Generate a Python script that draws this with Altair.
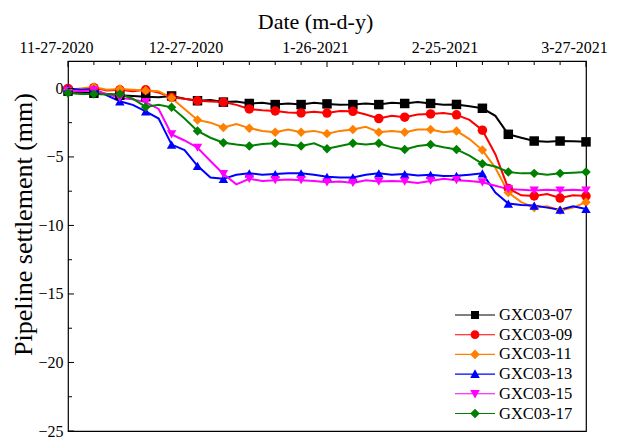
import altair as alt
import pandas as pd

# ---- data -------------------------------------------------------------
series = ["GXC03-07", "GXC03-09", "GXC03-11", "GXC03-13", "GXC03-15", "GXC03-17"]
colors = ["#000000", "#FF0000", "#FF8000", "#0000FF", "#FF00FF", "#008000"]
marker_shapes = ["square", "circle", "diamond", "triangle-up", "triangle-down", "diamond"]

start_date = "2020-11-27"
step_days = 3          # survey interval
marker_every = 6       # days between plotted symbols

gxc03_07 = [-0.2, -0.3, -0.35, -0.4, -0.5, -0.55, -0.6, -0.65, -0.55, -0.75,
            -0.9, -0.85, -1.0, -0.95, -1.1, -1.05, -1.18, -1.1, -1.18, -1.05,
            -1.13, -1.2, -1.18, -1.1, -1.18, -1.05, -1.1, -1.0, -1.1, -1.2,
            -1.17, -1.3, -1.45, -2.0, -3.35, -3.6, -3.84, -3.9, -3.84, -3.85, -3.9]
gxc03_09 = [0.0, -0.1, 0.05, -0.15, -0.1, -0.2, -0.1, -0.3, -0.65, -0.75,
            -0.9, -0.95, -1.0, -1.2, -1.5, -1.6, -1.65, -1.75, -1.79, -1.7,
            -1.8, -1.65, -1.67, -1.9, -2.2, -2.0, -2.1, -1.9, -1.86, -1.8,
            -1.93, -2.3, -3.05, -4.8, -7.3, -7.8, -7.85, -7.7, -8.0, -7.8, -7.85]
gxc03_11 = [-0.1, 0.0, 0.1, -0.1, -0.05, -0.1, -0.15, -0.2, -0.7, -1.5,
            -2.3, -2.5, -2.85, -2.6, -2.9, -3.1, -3.2, -3.0, -3.2, -3.1,
            -3.3, -3.1, -3.0, -2.8, -3.2, -3.1, -3.2, -3.0, -3.0, -3.2,
            -3.1, -3.7, -4.5, -5.8, -7.6, -8.3, -8.7, -8.6, -8.9, -8.7, -8.3]
gxc03_13 = [0.0, -0.1, -0.05, -0.5, -0.94, -1.2, -1.67, -2.2, -4.1, -4.5,
            -5.65, -6.5, -6.6, -6.3, -6.2, -6.3, -6.25, -6.2, -6.2, -6.3,
            -6.45, -6.5, -6.5, -6.3, -6.2, -6.3, -6.25, -6.35, -6.3, -6.4,
            -6.38, -6.3, -6.2, -7.6, -8.4, -8.5, -8.55, -8.7, -8.85, -8.6, -8.8]
gxc03_15 = [-0.2, -0.2, -0.15, -0.4, -0.7, -0.8, -1.0, -1.5, -3.36, -3.8,
            -4.33, -5.3, -6.25, -7.0, -6.6, -6.75, -6.7, -6.65, -6.7, -6.75,
            -6.85, -6.8, -6.9, -6.7, -6.8, -6.75, -6.8, -6.9, -6.75, -6.6,
            -6.7, -6.75, -6.85, -7.1, -7.35, -7.4, -7.45, -7.4, -7.45, -7.4, -7.45]
gxc03_17 = [-0.34, -0.4, -0.41, -0.45, -0.41, -0.75, -1.35, -1.2, -1.38, -2.2,
            -3.1, -3.6, -3.96, -4.1, -4.2, -4.05, -4.0, -4.1, -4.2, -4.0,
            -4.4, -4.2, -4.0, -4.1, -4.0, -4.3, -4.45, -4.2, -4.1, -4.3,
            -4.45, -4.9, -5.5, -5.7, -6.1, -6.2, -6.2, -6.3, -6.2, -6.15, -6.1]

x_tick_labels = ["2020-11-27", "2020-12-27", "2021-01-26", "2021-02-25", "2021-03-27"]
y_tick_labels = [0, -5, -10, -15, -20, -25]

# ---- long table -------------------------------------------------------
t0 = pd.Timestamp(start_date)
rows = []
for name, vals in zip(series, [gxc03_07, gxc03_09, gxc03_11, gxc03_13, gxc03_15, gxc03_17]):
    for i, v in enumerate(vals):
        day = i * step_days
        rows.append({"series": name, "day": day,
                     "date": (t0 + pd.Timedelta(days=day)).strftime("%Y-%m-%d"),
                     "settlement": v})
df = pd.DataFrame(rows)

# positions of the inward-pointing frame ticks
x_ticks = pd.DataFrame({"date": [(t0 + pd.Timedelta(days=d)).strftime("%Y-%m-%d")
                                 for d in range(0, 121, marker_every)]})
x_ticks["major"] = x_ticks["date"].isin(x_tick_labels)
y_ticks = pd.DataFrame({"settlement": [-2.5 * k for k in range(11)]})
y_ticks["major"] = y_ticks["settlement"] % 5 == 0

SERIF = "Liberation Serif"
X_TEXT_SHIFT = -12   # the date labels and title sit a little left of their ticks


def utc_day(s):
    return alt.DateTime(year=int(s[:4]), month=int(s[5:7]), date=int(s[8:]), utc=True)


x_scale = alt.Scale(type="utc", domain=[utc_day(x_tick_labels[0]), utc_day(x_tick_labels[-1])])
y_scale = alt.Scale(domain=[-25, 2], nice=False, zero=False)

# the axis group is translated by X_TEXT_SHIFT in x and y; paddings compensate in y
x_axis = alt.Axis(orient="top", title="Date (m-d-y)",
                  values=[utc_day(s) for s in x_tick_labels],
                  labelExpr="utcFormat(datum.value, '%-m-%d-%Y')",
                  labelFlush=False, labelOverlap=False, labelBound=False,
                  translate=X_TEXT_SHIFT + 0.5,
                  ticks=False, domain=False, grid=False,
                  labelPadding=6 + X_TEXT_SHIFT, titlePadding=6)
y_axis = alt.Axis(title="Pipeline settlement (mm)", values=y_tick_labels,
                  ticks=False, domain=False, grid=False,
                  labelPadding=5, titlePadding=1, titleY=163)


def X():
    return alt.X("date:T", scale=x_scale, axis=x_axis)


def Y():
    return alt.Y("settlement:Q", scale=y_scale, axis=y_axis)


color_scale = alt.Scale(domain=series, range=colors)

lines = alt.Chart(df).mark_line(strokeWidth=2).encode(
    x=X(), y=Y(),
    color=alt.Color("series:N", scale=color_scale, legend=None),
)

markers = alt.Chart(df).transform_filter(
    f"datum.day % {marker_every} == 0"
).mark_point(filled=True, size=90, opacity=1).encode(
    x=X(), y=Y(),
    color=alt.Color("series:N", scale=color_scale, legend=None),
    shape=alt.Shape("series:N", scale=alt.Scale(domain=series, range=marker_shapes), legend=None),
)

# legend symbols: a short line with the series marker in the middle
bar = "M-1,-0.028H1V0.028H-1Z "
legend_paths = [
    bar + "M-0.2,-0.2H0.2V0.2H-0.2Z",
    bar + "M-0.22,0A0.22,0.22 0 1,1 0.22,0A0.22,0.22 0 1,1 -0.22,0Z",
    bar + "M0,-0.24L0.24,0L0,0.24L-0.24,0Z",
    bar + "M0,-0.24L0.24,0.19L-0.24,0.19Z",
    bar + "M-0.24,-0.19L0.24,-0.19L0,0.24Z",
    bar + "M0,-0.24L0.24,0L0,0.24L-0.24,0Z",
]
legend_def = alt.Legend(title=None, orient="none", legendX=387, legendY=246,
                        symbolSize=1600, clipHeight=16, rowPadding=2.7,
                        labelFont=SERIF, labelFontSize=16.5, labelColor="black",
                        labelOffset=4, padding=0, symbolStrokeWidth=0,
                        symbolOpacity=1)
legend_layer = alt.Chart(pd.DataFrame({"series": series})).transform_filter(
    "false"
).mark_point(filled=True).encode(
    color=alt.Color("series:N", scale=alt.Scale(domain=series, range=colors), legend=legend_def),
    shape=alt.Shape("series:N", scale=alt.Scale(domain=series, range=legend_paths), legend=legend_def),
)

major_x = alt.Chart(x_ticks).transform_filter("datum.major").mark_rule(
    color="black", strokeWidth=1).encode(x=X(), y=alt.value(0), y2=alt.value(6))
minor_x = alt.Chart(x_ticks).transform_filter("!datum.major").mark_rule(
    color="black", strokeWidth=1).encode(x=X(), y=alt.value(0), y2=alt.value(4))
major_y = alt.Chart(y_ticks).transform_filter("datum.major").mark_rule(
    color="black", strokeWidth=1).encode(y=Y(), x=alt.value(0), x2=alt.value(6))
minor_y = alt.Chart(y_ticks).transform_filter("!datum.major").mark_rule(
    color="black", strokeWidth=1).encode(y=Y(), x=alt.value(0), x2=alt.value(4))

chart = alt.layer(
    lines, markers, major_x, minor_x, major_y, minor_y, legend_layer
).resolve_scale(
    color="independent", shape="independent"
).properties(
    width=518, height=370,
    padding={"left": 68, "top": 61, "right": 35, "bottom": 8},
    autosize=alt.AutoSizeParams(type="none"),
    background="white",
).configure_view(
    stroke="black", strokeWidth=1.2
).configure_axis(
    labelFont=SERIF, labelFontSize=16, labelColor="black",
    titleFont=SERIF, titleFontWeight="normal", titleColor="black",
).configure_axisX(
    titleFontSize=22, labelFontSize=16
).configure_axisY(
    titleFontSize=26
)

chart.save("out.html", embed_options={"renderer": "svg", "actions": False})
